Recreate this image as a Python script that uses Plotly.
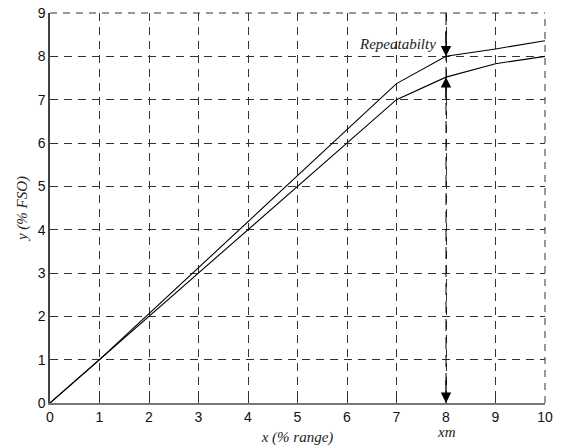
import plotly.graph_objects as go

# Input (% of range) and output (% of full-scale output) for the two calibration runs
x_vals = [0, 1, 7, 8, 9, 10]
y_upper = [0, 1, 7.37, 8.0, 8.17, 8.36]
y_lower = [0, 1, 7.0, 7.52, 7.83, 8.0]

x_ticks = list(range(0, 11))
y_ticks = list(range(0, 10))

x_m = 8  # input value at which repeatability is marked

fig = go.Figure()

# Marker line at xm
fig.add_trace(go.Scatter(
    x=[x_m, x_m], y=[y_ticks[0], y_ticks[-1]], mode="lines",
    line=dict(color="black", width=1, dash="12px,6px"),
    hoverinfo="skip", showlegend=False,
))

fig.add_trace(go.Scatter(x=x_vals, y=y_upper, mode="lines",
                         line=dict(color="black", width=1.1), showlegend=False))
fig.add_trace(go.Scatter(x=x_vals, y=y_lower, mode="lines",
                         line=dict(color="black", width=1.1), showlegend=False))

serif_it = dict(family="Liberation Serif, Times New Roman, serif", size=15, color="#222")

# Dashed frame on the top and right edges of the plot area
for shp in (dict(x0=0, x1=1, y0=1, y1=1), dict(x0=1, x1=1, y0=0, y1=1)):
    fig.add_shape(type="line", xref="paper", yref="paper",
                  line=dict(color="#333", width=1, dash="7px,6px"), **shp)

# Arrows marking the repeatability band at xm
arrow_common = dict(showarrow=True, arrowhead=2, arrowsize=1.6, arrowwidth=1.3,
                    arrowcolor="black", text="", xref="x", yref="y", axref="pixel", ayref="pixel")
fig.add_annotation(x=x_m, y=y_upper[3], ax=0, ay=-26, standoff=0, **arrow_common)
fig.add_annotation(x=x_m, y=y_lower[3], ax=0, ay=24, standoff=0, **arrow_common)
fig.add_annotation(x=x_m, y=0, ax=0, ay=-24, standoff=0, **arrow_common)

fig.add_annotation(x=7.01, y=8.29, text="<i>Repeatabilty</i>", showarrow=False,
                   font=serif_it, xref="x", yref="y")
fig.add_annotation(x=x_m, y=0, yref="paper", xref="x", yanchor="middle",
                   text="<i>xm</i>", showarrow=False, font=serif_it, yshift=-29)

grid = dict(showgrid=True, gridcolor="#333", gridwidth=1, griddash="8px,6px")
tickfont = dict(family="Liberation Sans, Arial, sans-serif", size=14, color="#111")

fig.update_xaxes(
    range=[0, 10], tickvals=x_ticks, ticks="inside", ticklen=4, tickcolor="#333",
    showline=True, linecolor="#777", linewidth=1.5, zeroline=False, automargin=False,
    tickfont=tickfont, title=dict(text="<i>x (% range)</i>", font=serif_it, standoff=8),
    **grid,
)
fig.update_yaxes(
    range=[0, 9], tickvals=y_ticks, ticks="inside", ticklen=4, tickcolor="#333",
    showline=True, linecolor="#444", linewidth=1.5, zeroline=False, automargin=False,
    tickfont=tickfont, title=dict(text="<i>y (% FSO)</i>", font=serif_it, standoff=6),
    **grid,
)

fig.update_layout(
    width=561, height=447,
    margin=dict(l=50, r=16, t=13, b=44),
    plot_bgcolor="white", paper_bgcolor="white",
    showlegend=False,
)

fig.write_html("out.html")
